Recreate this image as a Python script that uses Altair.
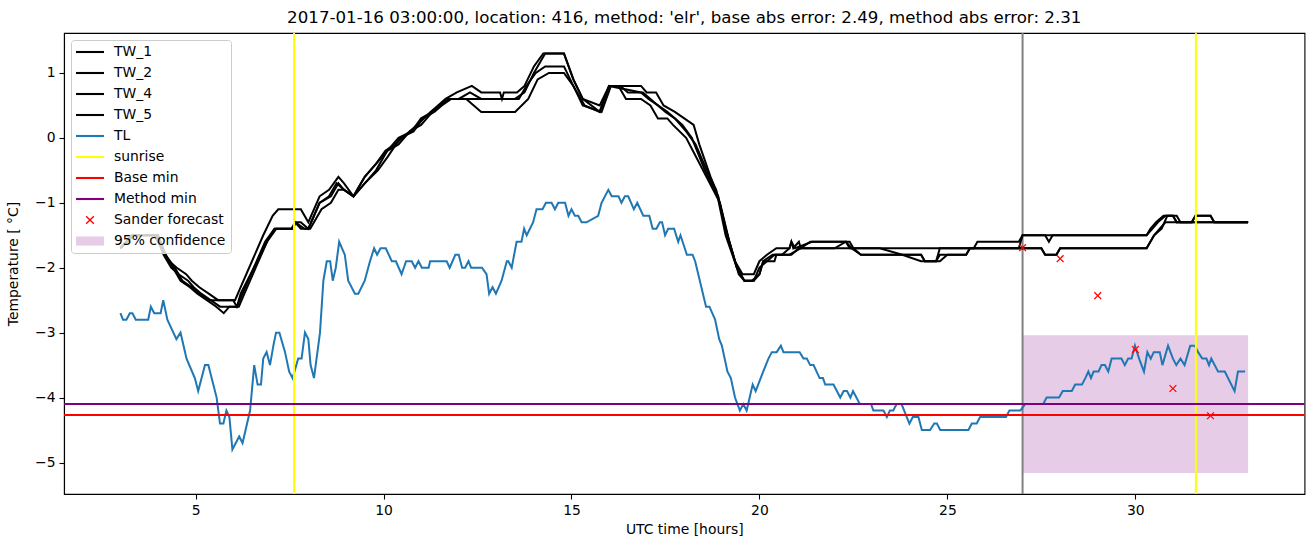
import altair as alt
import pandas as pd

# ---------------- data ----------------
tl_hours = [3.0, 3.07, 3.16, 3.25, 3.32, 3.41, 3.74, 3.81, 3.9, 4.07, 4.14, 4.25, 4.49, 4.6, 4.76, 4.98,
            5.07, 5.25, 5.34, 5.56, 5.65, 5.74, 5.82, 5.9, 5.98, 6.16, 6.25, 6.45, 6.56, 6.65, 6.74, 6.8,
            6.89, 6.98, 7.07, 7.14, 7.23, 7.38, 7.49, 7.58, 7.73, 7.82, 7.91, 8.0, 8.06, 8.15, 8.31, 8.4,
            8.49, 8.58, 8.65, 8.73, 8.82, 8.97, 9.06, 9.24, 9.33, 9.5, 9.64, 9.75, 9.83, 9.92, 10.06, 10.22,
            10.33, 10.48, 10.6, 10.75, 10.84, 10.93, 11.02, 11.2, 11.24, 11.68, 11.76, 11.91, 12.0, 12.09,
            12.17, 12.26, 12.33, 12.62, 12.74, 12.81, 12.9, 12.99, 13.14, 13.28, 13.32, 13.41, 13.54, 13.67,
            13.74, 13.81, 13.98, 14.07, 14.23, 14.32, 14.47, 14.56, 14.65, 14.83, 14.92, 15.0, 15.09, 15.18,
            15.27, 15.4, 15.71, 15.8, 15.98, 16.07, 16.25, 16.33, 16.42, 16.51, 16.66, 16.75, 16.91, 17.07,
            17.16, 17.26, 17.35, 17.41, 17.49, 17.57, 17.73, 17.84, 17.9, 18.07, 18.22, 18.29, 18.58, 18.67,
            18.82, 18.93, 19.0, 19.15, 19.24, 19.35, 19.48, 19.57, 19.66, 19.82, 19.9, 20.1, 20.24, 20.33,
            20.46, 20.57, 20.64, 21.07, 21.17, 21.26, 21.35, 21.44, 21.6, 21.69, 21.75, 21.97, 22.15, 22.24,
            22.33, 22.42, 22.49, 22.67, 22.97, 23.03, 23.3, 23.39, 23.47, 23.56, 23.65, 23.78, 23.99, 24.08,
            24.23, 24.32, 24.54, 24.65, 24.72, 24.81, 25.56, 25.65, 25.78, 25.87, 26.56, 26.65, 26.94, 27.07,
            27.55, 27.64, 27.97, 28.07, 28.31, 28.4, 28.58, 28.67, 28.75, 28.82, 28.89, 29.02, 29.1, 29.19,
            29.28, 29.37, 29.63, 29.72, 29.81, 29.9, 29.99, 30.1, 30.23, 30.32, 30.41, 30.49, 30.65, 30.72,
            30.87, 31.0, 31.09, 31.2, 31.31, 31.46, 31.58, 31.67, 31.78, 31.89, 31.96, 32.02, 32.2, 32.38,
            32.64, 32.73, 32.92]
tl_temps = [-2.7, -2.8, -2.8, -2.7, -2.7, -2.8, -2.8, -2.6, -2.7, -2.7, -2.5, -2.8, -3.1, -3.0, -3.4, -3.7,
            -3.9, -3.5, -3.5, -4.0, -4.4, -4.4, -4.2, -4.3, -4.8, -4.6, -4.7, -4.2, -3.5, -3.8, -3.8, -3.4,
            -3.3, -3.5, -3.2, -3.0, -3.0, -3.3, -3.6, -3.7, -3.4, -3.4, -3.0, -3.1, -3.5, -3.7, -3.0, -2.2,
            -1.9, -1.9, -2.2, -2.0, -1.6, -1.8, -2.2, -2.4, -2.4, -2.2, -1.9, -1.7, -1.8, -1.7, -1.7, -1.9,
            -1.9, -2.1, -1.9, -1.9, -2.0, -1.9, -2.0, -2.0, -1.9, -1.9, -2.0, -1.8, -1.8, -2.0,
            -2.0, -1.9, -2.0, -2.0, -2.1, -2.4, -2.3, -2.4, -2.2, -1.9, -1.9, -2.0, -1.6, -1.6,
            -1.4, -1.5, -1.3, -1.1, -1.1, -1.0, -1.0, -1.1, -1.0, -1.0, -1.2, -1.1, -1.2, -1.2,
            -1.3, -1.3, -1.2, -1.0, -0.8, -0.9, -0.9, -1.0, -0.9, -0.9, -1.1, -1.0, -1.2, -1.2,
            -1.4, -1.4, -1.3, -1.3, -1.5, -1.4, -1.4, -1.6, -1.5, -1.8, -1.8, -1.9, -2.6, -2.6,
            -2.8, -3.1, -3.2, -3.6, -3.7, -4.0, -4.2, -4.1, -4.2, -3.8, -3.9, -3.6, -3.4, -3.3,
            -3.3, -3.2, -3.3, -3.3, -3.4, -3.4, -3.5, -3.5, -3.7, -3.7, -3.8, -3.8, -4.0, -3.9,
            -3.9, -4.0, -3.9, -4.1, -4.1, -4.2, -4.2, -4.3, -4.2, -4.2, -4.1, -4.1, -4.4, -4.3,
            -4.3, -4.5, -4.5, -4.4, -4.4, -4.5, -4.5, -4.4, -4.4, -4.3, -4.3, -4.2, -4.2, -4.1,
            -4.1, -4.0, -4.0, -3.9, -3.9, -3.8, -3.8, -3.7, -3.6, -3.7, -3.6, -3.6, -3.5, -3.5,
            -3.6, -3.4, -3.4, -3.5, -3.4, -3.4, -3.2, -3.4, -3.6, -3.3, -3.4, -3.3, -3.3, -3.5,
            -3.2, -3.4, -3.5, -3.4, -3.5, -3.2, -3.2, -3.3, -3.4, -3.4, -3.5, -3.4, -3.6, -3.6,
            -3.9, -3.6, -3.6]

tw1_hours = [3.0, 3.3, 3.9, 4.1, 4.3, 4.5, 4.75, 4.9, 5.1, 5.35, 5.6, 6.05, 6.2, 6.5, 6.8, 7.05, 7.2, 7.8, 8.0,
             8.3, 8.55, 8.8, 8.95, 9.2, 9.5, 9.8, 10.05, 10.3, 10.7, 10.9, 11.25, 11.45, 11.65, 11.95, 12.35,
             12.6, 13.1, 13.15, 13.2, 13.55, 13.75, 14.0, 14.25, 14.8, 15.05, 15.3, 15.75, 16.0, 16.85, 17.0,
             17.25, 17.45, 17.75, 18.0, 18.25, 18.4, 18.7, 18.9, 19.1, 19.35, 19.55, 19.85, 20.0, 20.2, 20.45,
             20.8, 20.85, 20.9, 21.05, 21.1, 21.35, 22.4, 22.5, 23.2, 24.6, 25.7, 25.8, 26.9, 27.0, 27.6,
             27.7, 27.8, 30.3, 30.4, 30.55, 30.75, 31.0, 31.1, 31.5, 31.6, 32.0, 32.1, 33.0]
tw1_temps = [-1.7, -1.5, -1.5, -1.7, -1.9, -2.0, -2.1, -2.2, -2.3, -2.4, -2.5, -2.5, -2.3, -1.9, -1.5, -1.2, -1.1, -1.1, -1.3,
             -0.9, -0.8, -0.6, -0.7, -0.9, -0.6, -0.4, -0.2, -0.1, 0.1, 0.2, 0.4, 0.5, 0.6, 0.7, 0.8,
             0.7, 0.7, 0.6, 0.7, 0.7, 0.8, 1.1, 1.3, 1.3, 0.9, 0.6, 0.5, 0.8, 0.8, 0.7,
             0.7, 0.5, 0.4, 0.3, 0.2, -0.1, -0.6, -0.9, -1.4, -1.9, -2.1, -2.1, -1.9, -1.8, -1.7,
             -1.7, -1.6, -1.7, -1.6, -1.7, -1.6, -1.6, -1.7, -1.7, -1.7, -1.7, -1.6, -1.6, -1.5, -1.5,
             -1.6, -1.5, -1.5, -1.4, -1.3, -1.2, -1.2, -1.3, -1.3, -1.2, -1.2, -1.3, -1.3]

tw2_hours = [3.0, 3.3, 3.95, 4.15, 4.35, 4.55, 4.8, 4.95, 5.15, 5.4, 5.65, 6.1, 6.2, 6.55, 6.85, 7.1, 7.6, 7.65,
             7.8, 8.0, 8.3, 8.6, 8.8, 8.95, 9.2, 9.5, 9.8, 10.1, 10.4, 10.75, 11.0, 11.3, 11.5, 11.7, 12.0,
             12.3, 12.6, 13.2, 13.6, 13.8, 14.05, 14.3, 14.8, 15.05, 15.35, 15.75, 16.0, 16.3, 16.5, 16.9,
             17.1, 17.3, 17.55, 17.75, 18.05, 18.3, 18.6, 18.85, 19.1, 19.4, 19.6, 19.85, 20.0, 20.2, 20.4,
             20.85, 21.05, 21.4, 22.0, 22.3, 22.45, 22.7, 23.0, 23.5, 24.3, 24.4, 24.7, 24.8, 25.5, 25.6,
             26.9, 27.0, 30.3, 30.45, 30.6, 30.8, 31.1, 31.2, 33.0]
tw2_temps = [-1.7, -1.5, -1.5, -1.8, -2.0, -2.1, -2.2, -2.3, -2.4, -2.5, -2.6, -2.6, -2.4, -2.0, -1.6, -1.4, -1.4, -1.3,
             -1.4, -1.4, -1.0, -0.9, -0.7, -0.8, -0.9, -0.6, -0.4, -0.2, 0.0, 0.1, 0.3, 0.4, 0.5, 0.6, 0.6,
             0.7, 0.6, 0.6, 0.6, 0.8, 1.0, 1.1, 1.1, 0.8, 0.5, 0.4, 0.8, 0.8, 0.7, 0.7,
             0.6, 0.5, 0.4, 0.3, 0.1, -0.1, -0.5, -0.8, -1.5, -2.0, -2.2, -2.2, -2.0, -1.9, -1.8,
             -1.8, -1.7, -1.7, -1.7, -1.6, -1.7, -1.8, -1.8, -1.8, -1.8, -1.9, -1.9, -1.8, -1.8, -1.7,
             -1.7, -1.5, -1.5, -1.4, -1.3, -1.2, -1.2, -1.3, -1.3]

tw4_hours = [3.0, 3.35, 4.0, 4.2, 4.4, 4.6, 4.85, 5.05, 5.3, 5.55, 5.75, 5.9, 6.15, 6.3, 6.6, 6.9, 7.15, 7.55,
             7.65, 7.9, 8.05, 8.35, 8.6, 8.8, 8.95, 9.2, 9.5, 9.85, 10.1, 10.45, 10.8, 11.05, 11.35, 11.55,
             11.8, 12.2, 12.4, 12.6, 13.5, 13.85, 14.1, 14.4, 14.8, 15.05, 15.3, 15.8, 16.05, 16.25, 16.45,
             16.85, 17.1, 17.3, 17.55, 17.7, 18.05, 18.5, 18.95, 19.2, 19.45, 19.6, 19.85, 20.0, 20.1, 20.4,
             20.45, 20.8, 21.1, 22.5, 22.7, 23.8, 24.3, 24.8, 25.0, 25.5, 25.6, 27.5, 27.6, 27.9, 28.0,
             30.3, 30.4, 30.5, 30.65, 30.8, 31.5, 31.6, 32.0, 32.1, 33.0]
tw4_temps = [-1.7, -1.5, -1.5, -1.8, -2.0, -2.2, -2.3, -2.4, -2.5, -2.6, -2.7, -2.6, -2.6, -2.4, -2.0, -1.6, -1.4, -1.4,
             -1.3, -1.4, -1.4, -1.1, -1.0, -0.8, -0.8, -0.9, -0.7, -0.5, -0.3, 0.0, 0.1, 0.3, 0.4, 0.5,
             0.6, 0.6, 0.5, 0.4, 0.4, 0.6, 0.9, 1.0, 1.0, 0.8, 0.5, 0.4, 0.8, 0.8, 0.6,
             0.6, 0.5, 0.3, 0.3, 0.2, 0.0, -0.5, -1.0, -1.6, -2.1, -2.2, -2.2, -2.1, -1.9, -1.9,
             -1.8, -1.8, -1.7, -1.7, -1.8, -1.8, -1.9, -1.9, -1.8, -1.8, -1.7, -1.7, -1.8, -1.8, -1.7,
             -1.7, -1.6, -1.5, -1.4, -1.3, -1.3, -1.2, -1.2, -1.3, -1.3]

tw5_hours = [3.0, 3.35, 4.0, 4.2, 4.45, 4.65, 4.9, 5.1, 5.35, 5.6, 6.0, 6.1, 6.25, 6.55, 6.9, 7.1, 7.6, 7.65,
             7.8, 8.0, 8.3, 8.55, 8.75, 8.95, 9.2, 9.5, 9.8, 10.1, 10.4, 10.7, 11.0, 11.3, 11.5, 11.75, 12.35,
             12.6, 13.1, 13.5, 13.75, 14.0, 14.3, 14.8, 15.05, 15.3, 15.75, 16.0, 16.85, 17.05, 17.3, 17.5,
             17.75, 17.95, 18.2, 18.55, 18.9, 19.15, 19.4, 19.6, 19.8, 20.0, 20.1, 20.35, 20.6, 20.8, 20.85,
             20.95, 21.4, 22.3, 22.4, 23.2, 23.8, 24.3, 24.4, 24.7, 24.8, 26.0, 27.5, 27.6, 27.9, 28.0,
             30.3, 30.4, 30.5, 30.7, 30.85, 31.0, 31.1, 33.0]
tw5_temps = [-1.7, -1.5, -1.5, -1.8, -2.0, -2.2, -2.3, -2.4, -2.5, -2.5, -2.5, -2.6, -2.4, -2.0, -1.6, -1.4, -1.4, -1.3,
             -1.3, -1.4, -1.0, -0.9, -0.7, -0.8, -0.9, -0.7, -0.5, -0.2, -0.1, 0.1, 0.2, 0.4, 0.5, 0.6, 0.6,
             0.6, 0.6, 0.6, 0.7, 1.0, 1.3, 1.3, 0.9, 0.6, 0.4, 0.8, 0.7, 0.6, 0.5, 0.4,
             0.3, 0.2, 0.0, -0.5, -0.9, -1.5, -2.0, -2.2, -2.2, -2.1, -1.9, -1.8, -1.8, -1.7, -1.6,
             -1.7, -1.6, -1.6, -1.7, -1.7, -1.8, -1.8, -1.9, -1.9, -1.7, -1.7, -1.7, -1.8, -1.8, -1.7,
             -1.7, -1.6, -1.5, -1.4, -1.2, -1.2, -1.3, -1.3]

sunrise_hours = [7.62, 31.61]
forecast_hour = [27.0]
base_min = [-4.27]
method_min = [-4.10]
sander_hours = [27, 28, 29, 30, 31, 32]
sander_temps = [-1.69, -1.86, -2.43, -3.26, -3.86, -4.28]
conf_hours = [27.0, 33.0]
conf_temps = [-5.16, -3.04]

x_ticks = [5, 10, 15, 20, 25, 30]
y_ticks = [-5, -4, -3, -2, -1, 0, 1]

legend_labels = ["TW_1", "TW_2", "TW_4", "TW_5", "TL", "sunrise", "Base min", "Method min",
                 "Sander forecast", "95% confidence"]
legend_colors = ["black", "black", "black", "black", "#1f77b4", "yellow", "red", "purple", "red", "#e6cce6"]

TITLE = "2017-01-16 03:00:00, location: 416, method: 'elr', base abs error: 2.49, method abs error: 2.31"

# ---------------- shapes for legend / markers ----------------
LINE_PATH = "M-2,-0.15H2V0.15H-2Z"
PATCH_PATH = "M-2,-0.65H2V0.65H-2Z"
X_PATH = ("M0.481,-0.622L0.622,-0.481L0.141,0L0.622,0.481L0.481,0.622L0,0.141L-0.481,0.622"
          "L-0.622,0.481L-0.141,0L-0.622,-0.481L-0.481,-0.622L0,-0.141Z")
legend_shapes = [LINE_PATH] * 8 + [X_PATH, PATCH_PATH]

# ---------------- tables ----------------
tl_df = pd.DataFrame({"hour": tl_hours, "temp": tl_temps})
tw_frames = []
for name, hs, ts in [("TW_1", tw1_hours, tw1_temps), ("TW_2", tw2_hours, tw2_temps),
                     ("TW_4", tw4_hours, tw4_temps), ("TW_5", tw5_hours, tw5_temps)]:
    tw_frames.append(pd.DataFrame({"hour": hs, "temp": ts, "series": name}))
tw_df = pd.concat(tw_frames, ignore_index=True)
sunrise_df = pd.DataFrame({"hour": sunrise_hours})
fc_df = pd.DataFrame({"hour": forecast_hour})
base_df = pd.DataFrame({"temp": base_min})
meth_df = pd.DataFrame({"temp": method_min})
sander_df = pd.DataFrame({"hour": sander_hours, "temp": sander_temps, "series": "Sander forecast"})
conf_df = pd.DataFrame({"h0": [conf_hours[0]], "h1": [conf_hours[1]],
                        "t0": [conf_temps[0]], "t1": [conf_temps[1]]})

XS = alt.Scale(domain=[1.5, 34.5], nice=False, zero=False)
YS = alt.Scale(domain=[-5.485, 1.615], nice=False, zero=False)
XA = alt.Axis(values=x_ticks, title="UTC time [hours]", format="d", titlePadding=6)
YA = alt.Axis(values=y_ticks, title="Temperature [ °C]", format="d", titlePadding=14)


def X(f="hour"):
    return alt.X(f"{f}:Q", scale=XS, axis=XA)


def Y(f="temp"):
    return alt.Y(f"{f}:Q", scale=YS, axis=YA)


conf = alt.Chart(conf_df).mark_rect(color="purple", opacity=0.2).encode(
    x=X("h0"), x2="h1:Q", y=Y("t0"), y2="t1:Q")

tw = alt.Chart(tw_df).mark_line(color="black", strokeWidth=2).encode(
    x=X(), y=Y(), detail="series:N")

tl = alt.Chart(tl_df).mark_line(color="#1f77b4", strokeWidth=2).encode(x=X(), y=Y())

sunrise = alt.Chart(sunrise_df).mark_rule(color="yellow", strokeWidth=2).encode(x=X())
fc = alt.Chart(fc_df).mark_rule(color="gray", strokeWidth=2).encode(x=X())
base = alt.Chart(base_df).mark_rule(color="red", strokeWidth=2).encode(y=Y())
meth = alt.Chart(meth_df).mark_rule(color="purple", strokeWidth=2).encode(y=Y())

LEG = alt.Legend(title=None, orient="top-left", offset=7, symbolSize=196, symbolOffset=7,
                 labelOffset=17, padding=5, rowPadding=7, labelFontSize=13.9, labelFont="DejaVu Sans",
                 labelColor="black", fillColor="rgba(255,255,255,0.8)", strokeColor="#cccccc",
                 cornerRadius=3, symbolStrokeWidth=0, symbolOpacity=1)

sander = alt.Chart(sander_df).mark_point(filled=True, opacity=1, size=150, strokeWidth=0).encode(
    x=X(), y=Y(),
    color=alt.Color("series:N", scale=alt.Scale(domain=legend_labels, range=legend_colors), legend=LEG),
    shape=alt.Shape("series:N", scale=alt.Scale(domain=legend_labels, range=legend_shapes), legend=LEG),
)

chart = alt.layer(conf, fc, tw, tl, sunrise, base, meth, sander).properties(
    width=1240.5, height=461,
    autosize=alt.AutoSizeParams(type="none"),
    padding={"left": 64, "top": 33, "right": 8, "bottom": 53},
    title=alt.TitleParams(TITLE, fontSize=16.67, font="DejaVu Sans", fontWeight="normal",
                          anchor="middle", color="black", offset=5),
).configure(font="DejaVu Sans").configure_view(
    stroke="black", strokeWidth=1.1
).configure_axis(
    domainColor="black", domainWidth=1.1, tickColor="black", tickWidth=1.1, tickSize=5,
    labelColor="black", titleColor="black", labelFontSize=13.9, titleFontSize=13.9,
    labelFont="DejaVu Sans", titleFont="DejaVu Sans", titleFontWeight="normal",
    labelPadding=4, grid=False,
)

chart.save("out.html", embed_options={"renderer": "svg", "actions": False})
